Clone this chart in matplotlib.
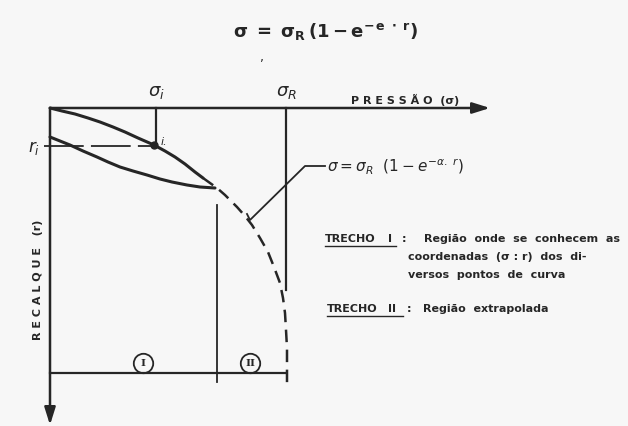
#!/usr/bin/env python3
# -*- coding: utf-8 -*-
"""
Pressure x settlement diagram (Trecho I / Trecho II), scanned-drawing style
"""

import matplotlib.pyplot as plt
from matplotlib.patches import FancyArrowPatch

plt.rcParams['font.family'] = ['DejaVu Sans']
plt.rcParams['mathtext.fontset'] = 'dejavusans'

INK = '#262626'
PAPER = '#f7f7f7'

# ==================== Drawing data (pressure -> right, settlement -> down) ====================
# loading curve (solid part)
upper_x = [0, 12, 25, 38, 50, 63, 75, 88, 104, 115, 125, 135, 145, 153]
upper_y = [0, 3, 6, 10, 14, 19, 24, 30, 37, 43, 49, 56, 64, 70]
# lower curve of trecho I
lower_x = [0, 10, 20, 33, 47, 58, 70, 83, 97, 110, 122, 137, 150, 165]
lower_y = [29, 33, 37, 43, 49, 54, 59, 63, 67, 71, 74, 77, 79, 80]
# extrapolated curve (trecho II)
extrap_x = [153, 160, 167, 175, 187, 195, 202, 210, 218, 224, 230, 233, 235, 236, 237, 237]
extrap_y = [70, 75, 80, 87, 99, 108, 117, 130, 144, 159, 175, 190, 205, 222, 240, 275]

sigma_i, r_i = 104, 37      # known point "i"
sigma_R = 236                # asymptotic pressure
trecho_limit = 167           # end of trecho I
base_r = 265                 # bottom reference line
axis_x_end = 440
axis_y_end = 317

fig = plt.figure(figsize=(6.28, 4.26), dpi=100, facecolor=PAPER)
ax = fig.add_axes([0, 0, 1, 1])
ax.set_facecolor(PAPER)
ax.set_xlim(-50, 578)
ax.set_ylim(318, -108)
ax.axis('off')

# axes with arrows
ax.add_patch(FancyArrowPatch((0, 0), (axis_x_end, 0), arrowstyle='-|>,head_length=7,head_width=2.2',
                             color=INK, lw=1.8, mutation_scale=1.5, shrinkA=0, shrinkB=0))
ax.add_patch(FancyArrowPatch((0, 0), (0, axis_y_end), arrowstyle='-|>,head_length=7,head_width=2.2',
                             color=INK, lw=1.8, mutation_scale=1.5, shrinkA=0, shrinkB=0))

# curves
ax.plot(upper_x, upper_y, color=INK, lw=2.2, solid_capstyle='round', solid_joinstyle='round')
ax.plot(lower_x, lower_y, color=INK, lw=2.2, solid_capstyle='round', solid_joinstyle='round')
ax.plot(extrap_x, extrap_y, color=INK, lw=1.8, dashes=(5, 3))

# point i and its guide lines
ax.plot([sigma_i + 2, sigma_i + 2], [0, r_i], color=INK, lw=1.6)
ax.plot([-6, sigma_i], [r_i + 1, r_i + 1], color=INK, lw=1.3, dashes=(22, 4))
ax.plot([sigma_i], [r_i], 'o', color=INK, markersize=5)
ax.text(sigma_i + 7, r_i - 3, 'i.', fontsize=8, fontstyle='italic', color=INK,
        ha='left', va='center')
ax.text(-10, r_i + 3, r'$r_i$', fontsize=12, color=INK, ha='right', va='center')

# vertical reference lines
ax.plot([sigma_R, sigma_R], [0, 182], color=INK, lw=1.6)
ax.plot([trecho_limit, trecho_limit], [97, 274], color=INK, lw=1.3)
ax.plot([0, sigma_R], [base_r, base_r], color=INK, lw=1.6)

# region markers
for cx, lab in [(93, 'I'), (200, 'II')]:
    ax.plot([cx], [base_r - 10], 'o', markersize=14, mfc='none', mec=INK, mew=1.3)
    ax.text(cx, base_r - 10, lab, fontsize=7.5, fontweight='bold', family='DejaVu Serif',
            color=INK, ha='center', va='center')

# leader to the equation
ax.plot([275, 255, 200, 197], [58, 58, 112, 106], color=INK, lw=1.3)

# labels
ax.text(106, -16, r'$\sigma_i$', fontsize=13, color=INK, ha='center', va='center')
ax.text(236, -16, r'$\sigma_R$', fontsize=13, color=INK, ha='center', va='center')
ax.text(355, -8, 'P R E S S Ã O  (σ)', fontsize=8, fontweight='bold', color=INK,
        ha='center', va='center')
ax.text(-12, 172, 'R E C A L Q U E   (r)', fontsize=8, fontweight='bold', color=INK,
        rotation=90, ha='center', va='center')
ax.text(277, 58, r'$\sigma = \sigma_R\ \ (1 - e^{-\alpha.\ r})$', fontsize=11,
        color=INK, ha='left', va='center')

ax.text(275, -76, r'$\mathbf{\sigma\ =\ \sigma_R\,(1 - e^{-\,e\ \cdot\ r})}$', fontsize=13,
        color=INK, ha='center', va='center', family='DejaVu Serif')
ax.text(212, -50, ',', fontsize=9, color=INK, ha='center', va='center')

# legend text on the right
txt = dict(fontsize=8, fontweight='bold', color=INK, ha='left', va='center')
ax.text(275, 131, 'TRECHO', **txt)
ax.text(338, 131, 'I', **txt)
ax.plot([275, 346], [138, 138], color=INK, lw=1.0)
ax.text(352, 131, ':', **txt)
ax.text(374, 131, 'Região  onde  se  conhecem  as', **txt)
ax.text(358, 149, 'coordenadas  (σ : r)  dos  di-', **txt)
ax.text(358, 167, 'versos  pontos  de  curva', **txt)
ax.text(277, 201, 'TRECHO', **txt)
ax.text(338, 201, 'II', **txt)
ax.plot([277, 353], [208, 208], color=INK, lw=1.0)
ax.text(357, 201, ':', **txt)
ax.text(373, 201, 'Região  extrapolada', **txt)

fig.savefig('out.png', dpi=100, facecolor=PAPER)
